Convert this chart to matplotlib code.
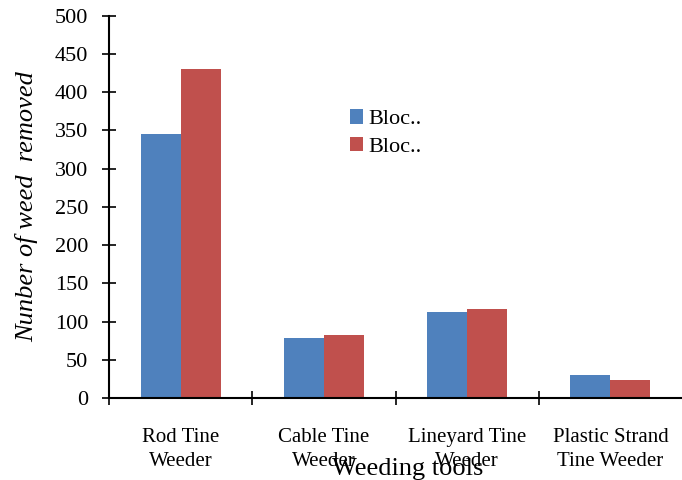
import numpy as np
from matplotlib import pyplot as plt

tools = ["Rod Tine\nWeeder", "Cable Tine\nWeeder", "Lineyard Tine\nWeeder", "Plastic Strand\nTine Weeder"]
block1 = [345, 78, 113, 30]
block2 = [430, 82, 117, 24]
series_names = ["Bloc..", "Bloc.."]

plt.rcParams["font.family"] = ["Liberation Serif", "DejaVu Serif"]

fig = plt.figure(figsize=(6.82, 4.8), dpi=100)
ax = fig.add_axes([0.160, 0.171, 0.840, 0.796])

x = np.arange(len(tools)) + 0.5
w = 0.28
ax.bar(x - w / 2, block1, w, color="#4F81BD", label=series_names[0])
ax.bar(x + w / 2, block2, w, color="#C0504D", label=series_names[1])

ax.set_xlim(0, len(tools))
ax.set_ylim(0, 500)
ax.set_yticks(np.arange(0, 501, 50))
ax.set_xticks(np.arange(0, len(tools)))
ax.set_xticklabels([])
ax.set_xticks(x, minor=True)
ax.set_xticklabels(tools, minor=True, fontsize=15, linespacing=1.35)
ax.tick_params(axis="x", which="minor", length=0, pad=22)
ax.tick_params(axis="x", which="major", direction="inout", length=10, width=1.2)
ax.tick_params(axis="y", direction="inout", length=10, width=1.2, labelsize=16, pad=10)

for s in ["top", "right"]:
    ax.spines[s].set_visible(False)
for s in ["left", "bottom"]:
    ax.spines[s].set_linewidth(1.5)

ax.set_ylabel("Nunber of weed  removed", fontsize=19, style="italic", labelpad=12)
fig.text(0.598, 0.01, "Weeding tools", fontsize=19, ha="center", va="baseline")

ax.legend(loc="upper left", bbox_to_anchor=(0.42, 0.755), frameon=False, fontsize=16,
          borderpad=0, borderaxespad=0,
          handlelength=0.6, handleheight=0.6, handletextpad=0.25, labelspacing=0.35)

fig.savefig("out.png", dpi=100)
